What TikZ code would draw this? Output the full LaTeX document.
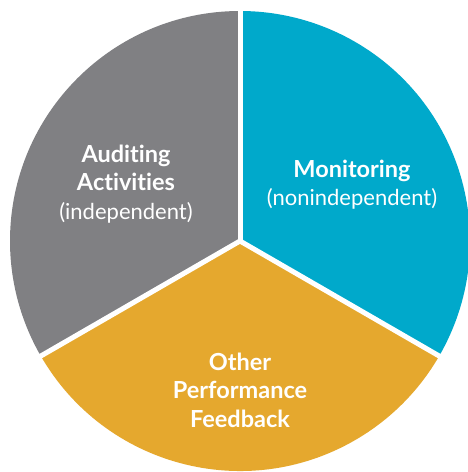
\documentclass[tikz,border=0pt]{standalone}
\usepackage{fontspec}
\usetikzlibrary{calc}
\setmainfont{Lato}[Ligatures={NoCommon}]
\definecolor{cgray}{HTML}{808083}
\definecolor{cblue}{HTML}{00A9CB}
\definecolor{cgold}{HTML}{E5A82E}
\newcommand{\ttl}{\fontsize{23.5}{28.5}\selectfont\bfseries}
\tikzset{
  lbl/.style={text=white, align=center, font=\fontsize{22}{28.5}\selectfont, inner sep=0pt},
  gap/.style={draw=white, line width=5pt}
}
\begin{document}
\begin{tikzpicture}[x=1pt,y=1pt]
\useasboundingbox (0,0) rectangle (468,472);
\clip (0,0) rectangle (468,472);
\fill[white] (0,0) rectangle (468,472);
\coordinate (c) at (240,231);
\fill[cgray] (c) -- ++(90:230) arc[start angle=90,end angle=210,radius=230] -- cycle;
\fill[cblue] (c) -- ++(-30:230) arc[start angle=-30,end angle=90,radius=230] -- cycle;
\fill[cgold] (c) -- ++(210:230) arc[start angle=210,end angle=330,radius=230] -- cycle;
\coordinate (e1) at ($(c)+(90:240)$);
\coordinate (e2) at ($(c)+(210:240)$);
\coordinate (e3) at ($(c)+(-30:240)$);
\draw[gap] (c) -- (e1);
\draw[gap] (c) -- (e2);
\draw[gap] (c) -- (e3);
\fill[white] (c) circle (2.5);
\node[lbl] (aud) at (126,288) {{\ttl Auditing}\\{\ttl Activities}\\(independent)};
\node[lbl] (mon) at (352,287.5) {{\ttl Monitoring}\\(nonindependent)};
\node[lbl] (opf) at (240,82) {{\ttl Other}\\{\ttl Performance}\\{\ttl Feedback}};
\end{tikzpicture}
\end{document}
